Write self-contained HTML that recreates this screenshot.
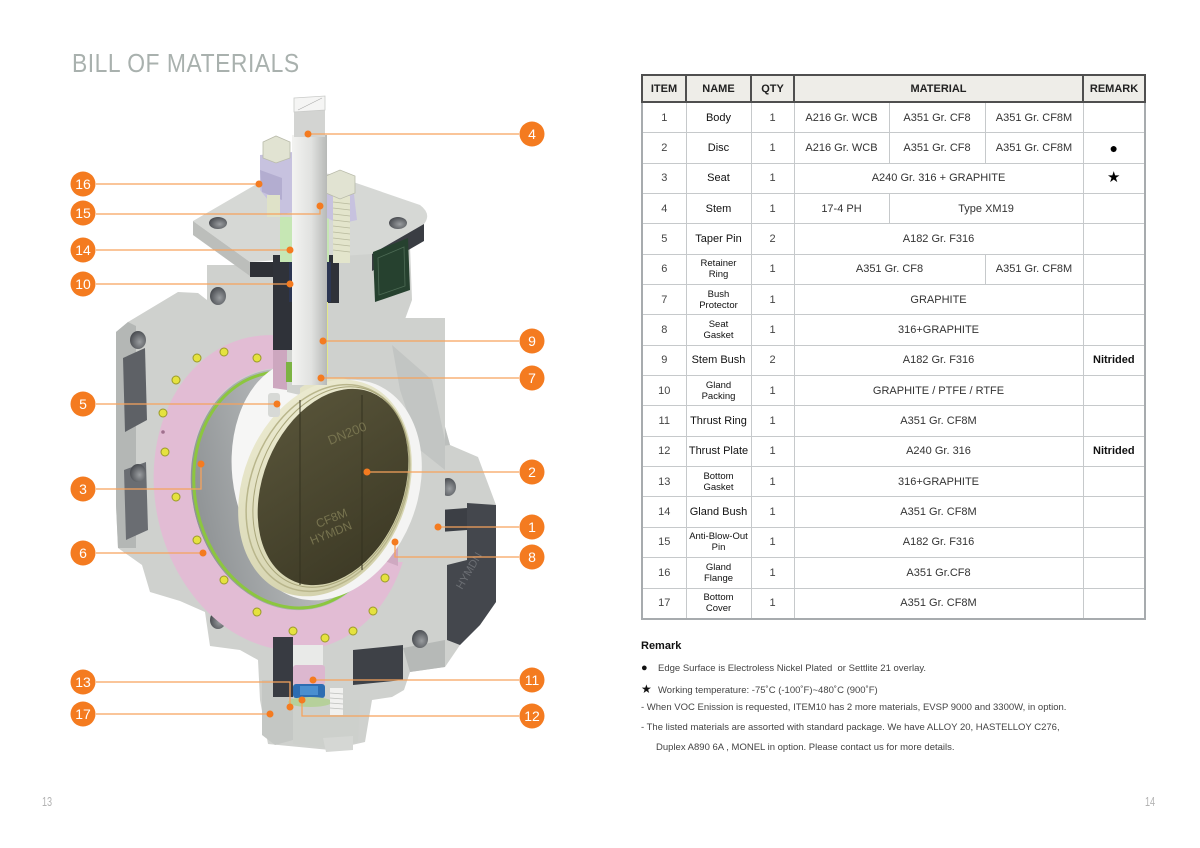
<!DOCTYPE html>
<html><head><meta charset="utf-8">
<style>
html,body{margin:0;padding:0;}
body{width:1200px;height:848px;background:#fff;position:relative;overflow:hidden;font-family:"Liberation Sans",sans-serif;}
.title{position:absolute;left:72px;top:48px;font-size:26px;color:#a9b1ae;transform:scaleX(0.88);transform-origin:left top;letter-spacing:0.6px;white-space:nowrap;line-height:30px;}
.pg{position:absolute;top:794px;font-size:13px;color:#b3b3b3;transform:scaleX(0.7);transform-origin:left top;}
table.bom{position:absolute;left:641px;top:74px;width:503px;border-collapse:collapse;table-layout:fixed;}
table.bom th{height:25px;padding:0;background:#eeede8;border:2px solid #4f4f4f;font-size:11px;font-weight:bold;color:#222;text-align:center;vertical-align:middle;}
table.bom td{height:29.35px;padding:0;border:1px solid #c6c9cb;font-size:11px;color:#333;text-align:center;vertical-align:middle;line-height:12px;}
table.bom tr td:first-child{border-left:2px solid #a7abae;color:#444;}
table.bom tr td:last-child{border-right:2px solid #a7abae;}
table.bom tr:last-child td{border-bottom:2px solid #a7abae;}
table.bom td.n{color:#111;}
table.bom td.s{font-size:9.5px;line-height:11px;color:#111;}
table.bom td.q{color:#444;}
table.bom td.b{font-weight:bold;color:#111;}
.rm{position:absolute;left:641px;font-size:9.5px;color:#444;white-space:nowrap;}
</style></head>
<body>
<div class="title">BILL OF MATERIALS</div>

<svg width="600" height="848" style="position:absolute;left:0;top:0" xmlns="http://www.w3.org/2000/svg">
<defs>
 <linearGradient id="stemG" x1="0" x2="1" y1="0" y2="0"><stop offset="0" stop-color="#f3f3f1"/><stop offset="0.55" stop-color="#e1e2e0"/><stop offset="1" stop-color="#b7b9b7"/></linearGradient>
 <radialGradient id="hole" cx="0.6" cy="0.6" r="0.7"><stop offset="0" stop-color="#9a9da0"/><stop offset="1" stop-color="#3f4247"/></radialGradient>
 <linearGradient id="discG" x1="0" y1="0" x2="1" y2="1"><stop offset="0" stop-color="#5a563b"/><stop offset="1" stop-color="#3a3723"/></linearGradient>
 <linearGradient id="boreG" x1="0" y1="0" x2="1" y2="0"><stop offset="0" stop-color="#8f9395"/><stop offset="0.5" stop-color="#b3b6b7"/><stop offset="1" stop-color="#d9dbdb"/></linearGradient>
 <linearGradient id="rimG" x1="0" y1="0" x2="1" y2="1"><stop offset="0" stop-color="#efeed6"/><stop offset="1" stop-color="#cfcda5"/></linearGradient>
</defs>

<!-- body silhouette -->
<path d="M116,332 L128,322 L178,292 L198,293 L207,300 L207,265 L300,265 L330,255 L410,246 L412,300 L400,333 L432,380 L450,445 L478,457 L496,505 L496,602 L480,625 L460,645 L445,667 L410,672 L404,690 L392,697 L372,700 L365,742 L330,750 L268,744 L260,700 L258,660 L240,650 L210,646 L205,612 L180,601 L150,592 L142,565 L118,548 L116,505 Z" fill="#cfd1ce"/>
<path d="M116,332 L128,322 L136,326 L136,548 L118,548 L116,505 Z" fill="#b4b7b5"/>
<path d="M123,358 L145,348 L147,420 L125,432 Z" fill="#5e6166"/>
<path d="M124,470 L146,462 L148,530 L126,540 Z" fill="#6a6d72"/>
<path d="M392,345 L432,380 L450,445 L426,448 L400,390 Z" fill="#bcbfbd"/>
<path d="M467,503 L496,505 L496,602 L480,625 L460,645 L447,640 L447,565 L467,560 Z" fill="#44474d"/>
<path d="M440,510 L467,508 L467,530 L440,532 Z" fill="#3c3f45"/>
<path d="M403,648 L445,640 L445,667 L410,672 Z" fill="#b6b9b7"/>
<text x="462" y="590" font-size="11" fill="#6b6e73" transform="rotate(-60 462 590)">HYMDN</text>
<ellipse cx="138" cy="340" rx="8" ry="9" fill="url(#hole)"/>
<ellipse cx="218" cy="296" rx="8" ry="9" fill="url(#hole)"/>
<ellipse cx="367" cy="345" rx="8" ry="9" fill="url(#hole)"/>
<ellipse cx="448" cy="487" rx="8" ry="9" fill="url(#hole)"/>
<ellipse cx="138" cy="473" rx="8" ry="9" fill="url(#hole)"/>
<ellipse cx="218" cy="620" rx="8" ry="9" fill="url(#hole)"/>
<ellipse cx="420" cy="639" rx="8" ry="9" fill="url(#hole)"/>

<!-- top plate -->
<path d="M193,221 L262,181 Q290,168 330,174 L420,205 Q432,214 424,224 L372,254 L250,262 Z" fill="#d6d8d5"/>
<path d="M193,221 L250,262 L250,276 L193,235 Z" fill="#bcbebb"/>
<path d="M250,262 L300,262 L300,277 L250,277 Z" fill="#2e3036"/>
<path d="M372,254 L424,224 L424,241 L372,271 Z" fill="#3a3d43"/>
<ellipse cx="218" cy="223" rx="9" ry="6" fill="url(#hole)"/>
<ellipse cx="398" cy="223" rx="9" ry="6" fill="url(#hole)"/>
<path d="M373,252 L408,238 L410,290 L375,302 Z" fill="#26412f"/>
<path d="M378,258 L404,247 L405,286 L379,295 Z" fill="none" stroke="#4d6b55" stroke-width="0.8"/>

<!-- bore -->
<ellipse cx="290" cy="490" rx="98" ry="122" transform="rotate(-12.5 290 490)" fill="url(#boreG)"/>
<ellipse cx="290" cy="490" rx="95" ry="119" transform="rotate(-12.5 290 490)" fill="none" stroke="#8cc63f" stroke-width="3"/>
<ellipse cx="308" cy="470" rx="76" ry="110" transform="rotate(-6 308 470)" fill="#f6f6f5"/>

<!-- pink retainer ring -->
<path fill-rule="evenodd" fill="#e2bcd4" d="
M 282 492 m -127 0 a 127 159 0 1 0 254 0 a 127 159 0 1 0 -254 0 Z
M 290 490 m -98 0 a 98 122 0 1 0 196 0 a 98 122 0 1 0 -196 0 Z" transform="rotate(-12.5 286 491)"/>
<g fill="#e5e23f" stroke="#9a9a2a" stroke-width="1">
<circle cx="197" cy="358" r="4"/><circle cx="224" cy="352" r="4"/><circle cx="257" cy="358" r="4"/>
<circle cx="176" cy="380" r="4"/><circle cx="163" cy="413" r="4"/><circle cx="165" cy="452" r="4"/>
<circle cx="176" cy="497" r="4"/><circle cx="197" cy="540" r="4"/><circle cx="224" cy="580" r="4"/>
<circle cx="257" cy="612" r="4"/><circle cx="293" cy="631" r="4"/><circle cx="325" cy="638" r="4"/>
<circle cx="353" cy="631" r="4"/><circle cx="373" cy="611" r="4"/><circle cx="385" cy="578" r="4"/>
</g>
<circle cx="163" cy="432" r="1.8" fill="#a0708e"/>

<!-- section gray over upper-right -->
<path d="M287,318 L445,318 L445,562 L398,562 L398,540 L360,480 L300,395 L287,392 Z" fill="#cfd1ce"/>
<path d="M392,345 L432,380 L445,440 L445,470 L420,450 L400,390 Z" fill="#c2c5c3"/>
<path d="M382,540 L398,540 L398,566 L382,560 Z" fill="#cfa9c1"/>
<path d="M386,536 L398,534 L398,545 L388,548 Z" fill="#86c24a"/>
<path d="M273,340 L287,340 L287,390 L273,388 Z" fill="#cda7bf"/>
<rect x="273" y="255" width="20" height="95" fill="#2f3239"/>
<rect x="327" y="255" width="12" height="48" fill="#2f3239"/>
<rect x="280" y="217" width="13" height="45" fill="#c6e7b4"/>
<rect x="322" y="217" width="7" height="45" fill="#c6e7b4"/>
<rect x="289" y="262" width="8" height="40" fill="#2c3652"/>
<rect x="322" y="262" width="9" height="40" fill="#2c3652"/>
<rect x="323" y="302" width="5" height="72" fill="#e4e889"/>
<rect x="286" y="362" width="7" height="20" fill="#7cb342"/>

<!-- white gap and disc -->
<ellipse cx="333" cy="490" rx="84" ry="114" transform="rotate(22 333 490)" fill="#f4f4f3"/>
<path d="M300,388 Q322,372 350,380 L352,396 L300,398 Z" fill="#e4e3c6"/>
<ellipse cx="325" cy="488" rx="82" ry="112" transform="rotate(22 325 488)" fill="url(#rimG)"/>
<ellipse cx="328" cy="488" rx="77" ry="107" transform="rotate(22 328 488)" fill="none" stroke="#b9b68c" stroke-width="1.5"/>
<ellipse cx="331" cy="487" rx="73" ry="104" transform="rotate(22 331 487)" fill="none" stroke="#a9a67a" stroke-width="1"/>
<ellipse cx="333" cy="487" rx="70" ry="102" transform="rotate(22 333 487)" fill="url(#discG)"/>
<line x1="300" y1="400" x2="300" y2="585" stroke="#34321f" stroke-width="1"/>
<line x1="362" y1="395" x2="362" y2="570" stroke="#34321f" stroke-width="1"/>
<text x="330" y="445" font-size="13" fill="#77734f" transform="rotate(-22 330 445)">DN200</text>
<text x="318" y="528" font-size="12" fill="#77734f" transform="rotate(-22 318 528)">CF8M</text>
<text x="312" y="545" font-size="12" fill="#77734f" transform="rotate(-22 312 545)">HYMDN</text>
<rect x="268" y="393" width="12" height="24" rx="3" fill="#d7d9d6"/>

<!-- gland flange -->
<path d="M260,155 L293,152 L293,212 L280,215 L260,190 Z" fill="#c7c2df"/>
<path d="M260,170 L282,178 L282,200 L262,192 Z" fill="#b3add0"/>
<path d="M327,176 L353,186 L357,220 L340,224 L327,218 Z" fill="#c7c2df"/>
<rect x="267" y="195" width="13" height="22" fill="#dfe2c8"/>
<path d="M263,142 L276,136 L290,142 L290,158 L276,163 L263,158 Z" fill="#e1e3d2" stroke="#b9bbaa" stroke-width="0.8"/>
<rect x="333" y="196" width="17" height="67" fill="#e3e5cc"/>
<g stroke="#b8ba9e" stroke-width="0.8">
<line x1="333" y1="202" x2="350" y2="204"/><line x1="333" y1="208" x2="350" y2="210"/><line x1="333" y1="214" x2="350" y2="216"/><line x1="333" y1="220" x2="350" y2="222"/><line x1="333" y1="226" x2="350" y2="228"/><line x1="333" y1="232" x2="350" y2="234"/><line x1="333" y1="238" x2="350" y2="240"/><line x1="333" y1="244" x2="350" y2="246"/><line x1="333" y1="250" x2="350" y2="252"/>
</g>
<path d="M326,176 L340,170 L355,176 L355,193 L340,199 L326,193 Z" fill="#e1e3d2" stroke="#b9bbaa" stroke-width="0.8"/>
<rect x="292" y="135" width="35" height="250" fill="url(#stemG)"/>
<rect x="294" y="108" width="31" height="29" fill="#d3d4d2"/>
<path d="M294,98 L325,96 L325,110 L294,112 Z" fill="#f5f5f4" stroke="#c9cac8" stroke-width="0.8"/>
<line x1="298" y1="110" x2="322" y2="98" stroke="#aaa" stroke-width="0.6"/>

<!-- bottom assembly -->
<path d="M262,680 L293,680 L293,740 L275,745 L262,735 Z" fill="#c4c7c4"/>
<path d="M293,700 L360,700 L358,742 L330,748 L293,744 Z" fill="#cdd0cc"/>
<rect x="273" y="637" width="20" height="60" fill="#383b42"/>
<path d="M353,650 L403,645 L403,680 L353,685 Z" fill="#3e4147"/>
<rect x="293" y="645" width="30" height="22" fill="#e9eae8"/>
<rect x="293" y="665" width="32" height="20" rx="3" fill="#dcb7cf"/>
<rect x="293" y="684" width="32" height="14" rx="3" fill="#2d6db2"/>
<rect x="300" y="686" width="18" height="9" fill="#4a8fd0"/>
<ellipse cx="310" cy="702" rx="22" ry="5" fill="#b6d09b"/>
<rect x="330" y="688" width="13" height="27" fill="#f1f1ef"/>
<g stroke="#bdbfbc" stroke-width="0.8"><line x1="330" y1="693" x2="343" y2="694"/><line x1="330" y1="698" x2="343" y2="699"/><line x1="330" y1="703" x2="343" y2="704"/><line x1="330" y1="708" x2="343" y2="709"/></g>
<path d="M323,738 L353,736 L353,750 L326,752 Z" fill="#d5d7d4"/>

<!-- callouts -->
<g stroke="#f6a25c" stroke-width="1.3" fill="none">
<line x1="96" y1="184" x2="259" y2="184"/>
<polyline points="96,214 320,214 320,206"/>
<line x1="96" y1="250" x2="290" y2="250"/>
<line x1="96" y1="284" x2="290" y2="284"/>
<line x1="96" y1="404" x2="277" y2="404"/>
<polyline points="96,489 201,489 201,464"/>
<line x1="96" y1="553" x2="203" y2="553"/>
<polyline points="96,682 290,682 290,707"/>
<line x1="96" y1="714" x2="270" y2="714"/>
<line x1="519" y1="134" x2="308" y2="134"/>
<line x1="519" y1="341" x2="323" y2="341"/>
<line x1="519" y1="378" x2="321" y2="378"/>
<line x1="519" y1="472" x2="367" y2="472"/>
<line x1="519" y1="527" x2="438" y2="527"/>
<polyline points="519,557 395,557 395,542"/>
<line x1="519" y1="680" x2="313" y2="680"/>
<polyline points="519,716 302,716 302,700"/>
</g>
<g fill="#f47b20">
<circle cx="259" cy="184" r="3.5"/><circle cx="320" cy="206" r="3.5"/><circle cx="290" cy="250" r="3.5"/>
<circle cx="290" cy="284" r="3.5"/><circle cx="277" cy="404" r="3.5"/><circle cx="201" cy="464" r="3.5"/>
<circle cx="203" cy="553" r="3.5"/><circle cx="290" cy="707" r="3.5"/><circle cx="270" cy="714" r="3.5"/>
<circle cx="308" cy="134" r="3.5"/><circle cx="323" cy="341" r="3.5"/><circle cx="321" cy="378" r="3.5"/>
<circle cx="367" cy="472" r="3.5"/><circle cx="438" cy="527" r="3.5"/><circle cx="395" cy="542" r="3.5"/>
<circle cx="313" cy="680" r="3.5"/><circle cx="302" cy="700" r="3.5"/>
<circle cx="83" cy="184" r="12.5"/><circle cx="83" cy="213" r="12.5"/><circle cx="83" cy="250" r="12.5"/>
<circle cx="83" cy="284" r="12.5"/><circle cx="83" cy="404" r="12.5"/><circle cx="83" cy="489" r="12.5"/>
<circle cx="83" cy="553" r="12.5"/><circle cx="83" cy="682" r="12.5"/><circle cx="83" cy="714" r="12.5"/>
<circle cx="532" cy="134" r="12.5"/><circle cx="532" cy="341" r="12.5"/><circle cx="532" cy="378" r="12.5"/>
<circle cx="532" cy="472" r="12.5"/><circle cx="532" cy="527" r="12.5"/><circle cx="532" cy="557" r="12.5"/>
<circle cx="532" cy="680" r="12.5"/><circle cx="532" cy="716" r="12.5"/>
</g>
<g fill="#fff" font-size="14" text-anchor="middle" font-family="Liberation Sans, sans-serif">
<text x="83" y="189">16</text><text x="83" y="218">15</text><text x="83" y="255">14</text>
<text x="83" y="289">10</text><text x="83" y="409">5</text><text x="83" y="494">3</text>
<text x="83" y="558">6</text><text x="83" y="687">13</text><text x="83" y="719">17</text>
<text x="532" y="139">4</text><text x="532" y="346">9</text><text x="532" y="383">7</text>
<text x="532" y="477">2</text><text x="532" y="532">1</text><text x="532" y="562">8</text>
<text x="532" y="685">11</text><text x="532" y="721">12</text>
</g>
</svg>

<table class="bom">
<colgroup><col style="width:44px"><col style="width:65px"><col style="width:43px"><col style="width:95px"><col style="width:96px"><col style="width:98px"><col style="width:62px"></colgroup>
<tr><th>ITEM</th><th>NAME</th><th>QTY</th><th colspan="3">MATERIAL</th><th>REMARK</th></tr>
<tr><td>1</td><td class="n">Body</td><td class="q">1</td><td>A216 Gr. WCB</td><td>A351 Gr. CF8</td><td>A351 Gr. CF8M</td><td></td></tr>
<tr><td>2</td><td class="n">Disc</td><td class="q">1</td><td>A216 Gr. WCB</td><td>A351 Gr. CF8</td><td>A351 Gr. CF8M</td><td style="font-size:14px;color:#000">●</td></tr>
<tr><td>3</td><td class="n">Seat</td><td class="q">1</td><td colspan="3">A240 Gr. 316 + GRAPHITE</td><td style="font-size:15px;color:#000">★</td></tr>
<tr><td>4</td><td class="n">Stem</td><td class="q">1</td><td>17-4 PH</td><td colspan="2">Type XM19</td><td></td></tr>
<tr><td>5</td><td class="n">Taper Pin</td><td class="q">2</td><td colspan="3">A182 Gr. F316</td><td></td></tr>
<tr><td>6</td><td class="s">Retainer<br>Ring</td><td class="q">1</td><td colspan="2">A351 Gr. CF8</td><td>A351 Gr. CF8M</td><td></td></tr>
<tr><td>7</td><td class="s">Bush<br>Protector</td><td class="q">1</td><td colspan="3">GRAPHITE</td><td></td></tr>
<tr><td>8</td><td class="s">Seat<br>Gasket</td><td class="q">1</td><td colspan="3">316+GRAPHITE</td><td></td></tr>
<tr><td>9</td><td class="n">Stem Bush</td><td class="q">2</td><td colspan="3">A182 Gr. F316</td><td class="b">Nitrided</td></tr>
<tr><td>10</td><td class="s">Gland<br>Packing</td><td class="q">1</td><td colspan="3">GRAPHITE / PTFE / RTFE</td><td></td></tr>
<tr><td>11</td><td class="n">Thrust Ring</td><td class="q">1</td><td colspan="3">A351 Gr. CF8M</td><td></td></tr>
<tr><td>12</td><td class="n">Thrust Plate</td><td class="q">1</td><td colspan="3">A240 Gr. 316</td><td class="b">Nitrided</td></tr>
<tr><td>13</td><td class="s">Bottom<br>Gasket</td><td class="q">1</td><td colspan="3">316+GRAPHITE</td><td></td></tr>
<tr><td>14</td><td class="n">Gland Bush</td><td class="q">1</td><td colspan="3">A351 Gr. CF8M</td><td></td></tr>
<tr><td>15</td><td class="s">Anti-Blow-Out<br>Pin</td><td class="q">1</td><td colspan="3">A182 Gr. F316</td><td></td></tr>
<tr><td>16</td><td class="s">Gland<br>Flange</td><td class="q">1</td><td colspan="3">A351 Gr.CF8</td><td></td></tr>
<tr><td>17</td><td class="s">Bottom<br>Cover</td><td class="q">1</td><td colspan="3">A351 Gr. CF8M</td><td></td></tr>
</table>

<div class="rm" style="top:640px;font-size:11px;font-weight:bold;color:#111">Remark</div>
<div class="rm" style="top:662px"><span style="display:inline-block;width:17px;font-size:11px;color:#111">●</span>Edge Surface is Electroless Nickel Plated&nbsp; or Settlite 21 overlay.</div>
<div class="rm" style="top:682px"><span style="display:inline-block;width:17px;font-size:12px;color:#111">★</span>Working temperature: -75˚C (-100˚F)~480˚C (900˚F)</div>
<div class="rm" style="top:702px">- When VOC Enission is requested, ITEM10 has 2 more materials, EVSP 9000 and 3300W, in option.</div>
<div class="rm" style="top:722px">- The listed materials are assorted with standard package. We have ALLOY 20, HASTELLOY C276,</div>
<div class="rm" style="top:742px;left:656px">Duplex A890 6A , MONEL in option. Please contact us for more details.</div>

<div class="pg" style="left:42px">13</div>
<div class="pg" style="left:1145px">14</div>
</body></html>
